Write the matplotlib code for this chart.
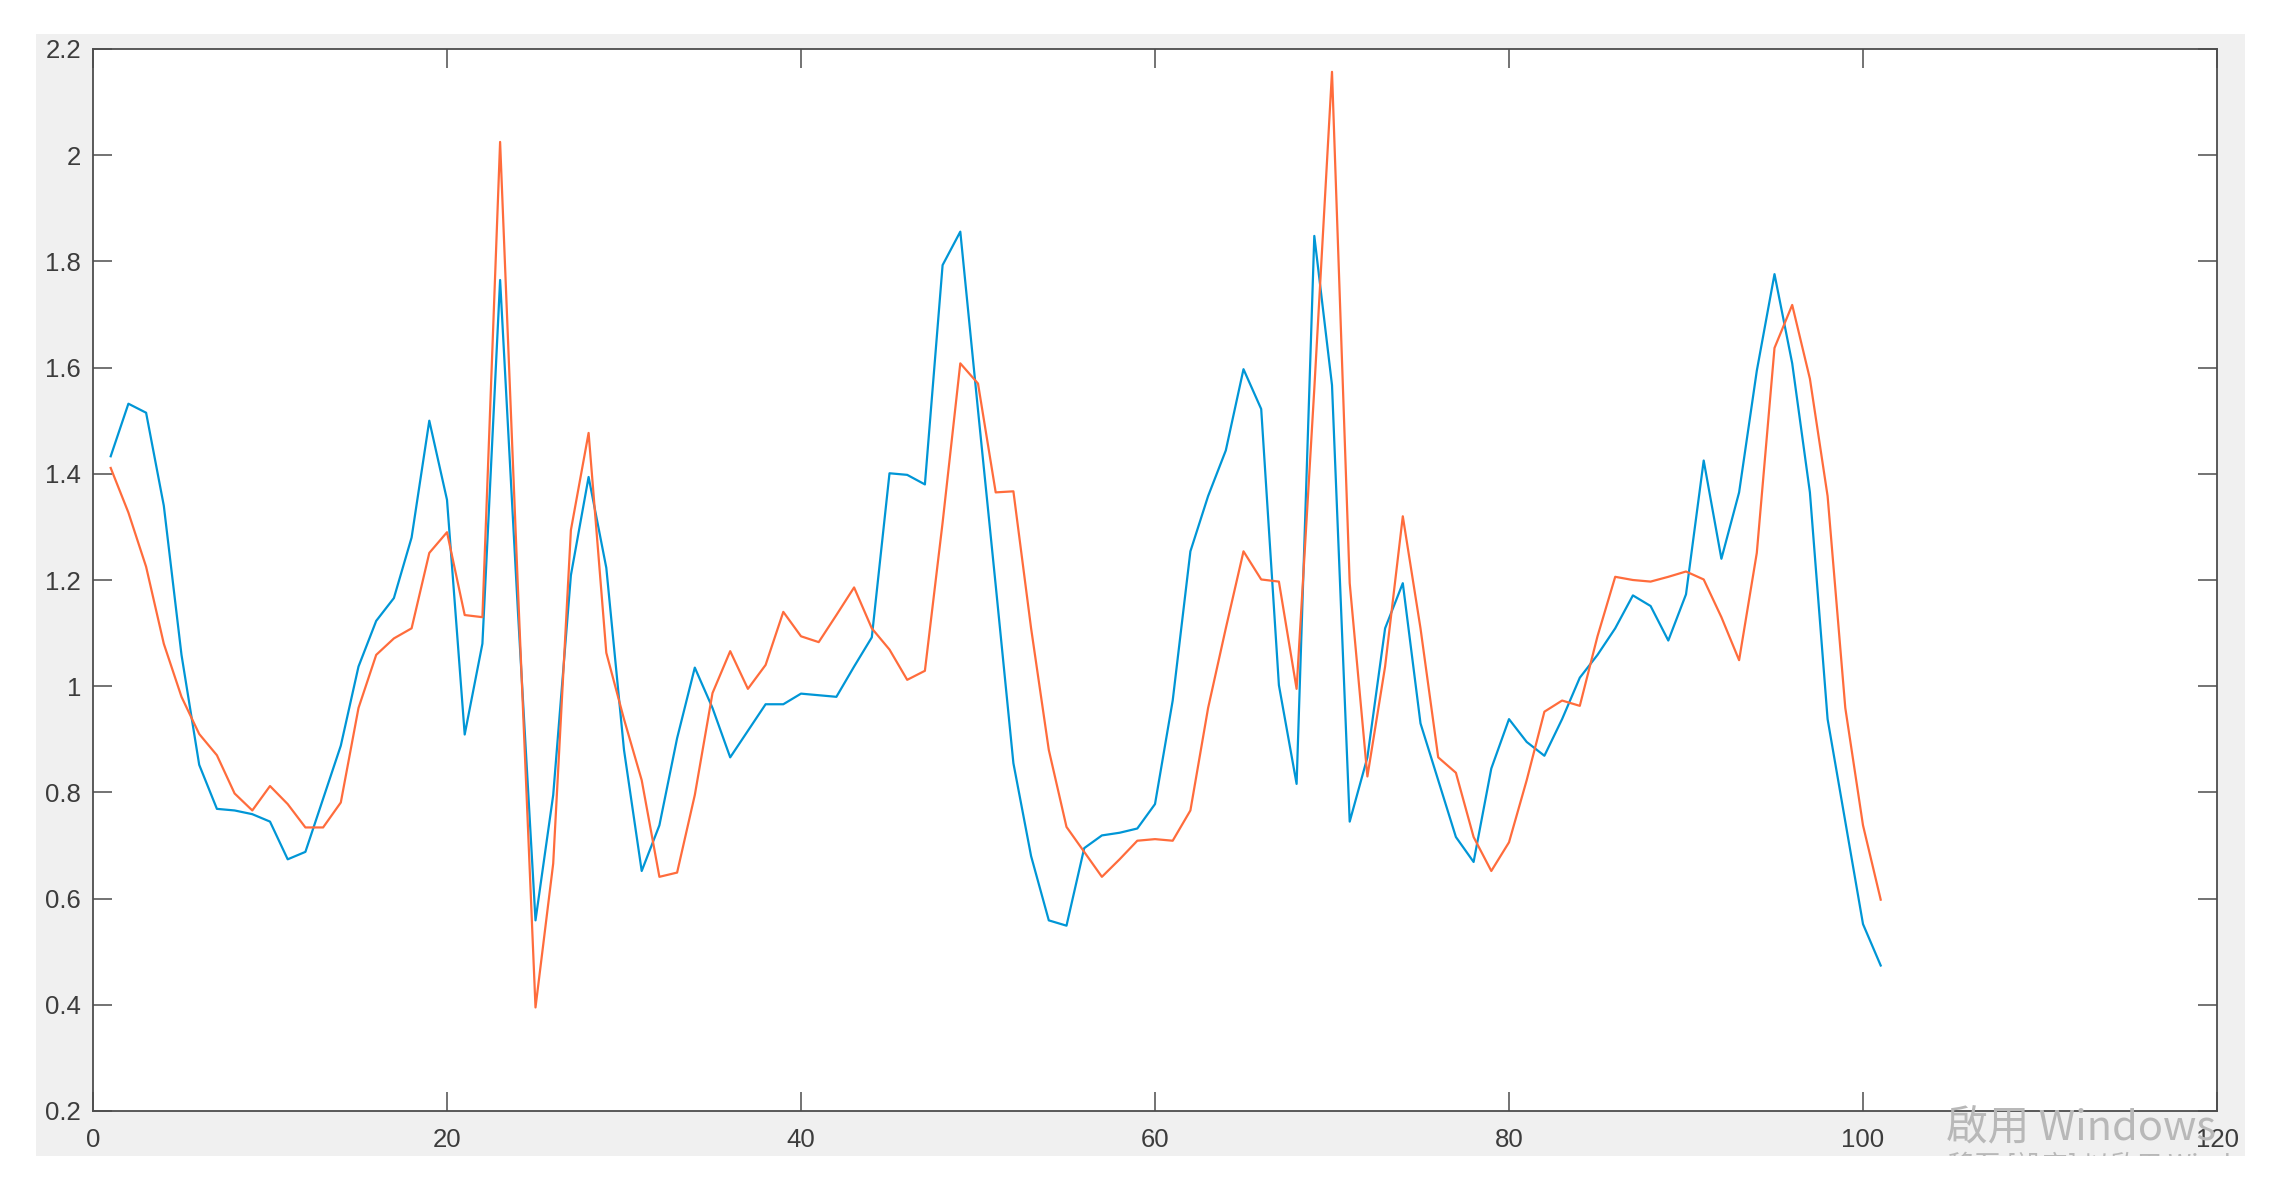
import numpy as np
import matplotlib.pyplot as plt
from matplotlib.patches import Rectangle

# values, x = 1..101
x_vals = np.arange(1, 102)

series_blue = [
    1.433, 1.532, 1.515, 1.340, 1.059, 0.852, 0.769, 0.766, 0.759, 0.745,
    0.674, 0.688, 0.788, 0.888, 1.037, 1.123, 1.166, 1.280, 1.500, 1.351,
    0.909, 1.080, 1.765, 1.145, 0.559, 0.795, 1.209, 1.394, 1.223, 0.880,
    0.652, 0.738, 0.902, 1.035, 0.959, 0.866, 0.916, 0.966, 0.966, 0.986,
    0.983, 0.980, 1.037, 1.092, 1.401, 1.398, 1.380, 1.793, 1.856, 1.520,
    1.190, 0.855, 0.680, 0.559, 0.549, 0.695, 0.719, 0.724, 0.732, 0.778,
    0.973, 1.254, 1.358, 1.444, 1.597, 1.522, 1.002, 0.816, 1.848, 1.567,
    0.745, 0.866, 1.109, 1.194, 0.930, 0.823, 0.716, 0.669, 0.845, 0.938,
    0.895, 0.869, 0.938, 1.016, 1.059, 1.109, 1.171, 1.151, 1.086, 1.173,
    1.425, 1.240, 1.365, 1.594, 1.776, 1.608, 1.365, 0.938, 0.745, 0.552,
    0.474,
]

series_orange = [
    1.411, 1.327, 1.225, 1.080, 0.980, 0.910, 0.870, 0.798, 0.766, 0.812,
    0.778, 0.734, 0.734, 0.781, 0.959, 1.059, 1.090, 1.109, 1.251, 1.290,
    1.134, 1.130, 2.025, 1.190, 0.395, 0.666, 1.294, 1.477, 1.063, 0.938,
    0.823, 0.641, 0.649, 0.795, 0.987, 1.066, 0.995, 1.040, 1.140, 1.094,
    1.083, 1.134, 1.186, 1.109, 1.069, 1.012, 1.029, 1.308, 1.608, 1.570,
    1.365, 1.367, 1.109, 0.880, 0.735, 0.688, 0.641, 0.674, 0.709, 0.712,
    0.709, 0.766, 0.959, 1.109, 1.254, 1.201, 1.197, 0.995, 1.560, 2.157,
    1.194, 0.830, 1.037, 1.320, 1.109, 0.866, 0.837, 0.716, 0.652, 0.706,
    0.823, 0.952, 0.973, 0.963, 1.094, 1.206, 1.200, 1.197, 1.206, 1.216,
    1.201, 1.130, 1.049, 1.251, 1.637, 1.718, 1.579, 1.358, 0.959, 0.738,
    0.598,
]

x_ticks = [0, 20, 40, 60, 80, 100, 120]
y_ticks = [0.2, 0.4, 0.6, 0.8, 1.0, 1.2, 1.4, 1.6, 1.8, 2.0, 2.2]

W, H = 2275, 1189
fig = plt.figure(figsize=(W / 100, H / 100), dpi=100, facecolor='white')

# grey figure panel of the screenshot
panel = Rectangle((36 / W, 1 - 1156 / H), (2245 - 36) / W, (1156 - 34) / H,
                  transform=fig.transFigure, facecolor='#f0f0f0',
                  edgecolor='none', zorder=-10)
fig.add_artist(panel)

ax = fig.add_axes([93 / W, 1 - 1111 / H, (2217 - 93) / W, (1111 - 49) / H])
ax.set_facecolor('white')

ax.plot(x_vals, series_blue, color='#0096d6', lw=1.6)
ax.plot(x_vals, series_orange, color='#ff6c3c', lw=1.6)

ax.set_xlim(0, 120)
ax.set_ylim(0.2, 2.2)
ax.set_xticks(x_ticks)
ax.set_yticks(y_ticks)
ax.set_xticklabels([f'{v:g}' for v in x_ticks])
ax.set_yticklabels([f'{v:g}' for v in y_ticks])

for s in ax.spines.values():
    s.set_color('#4d4d4d')
    s.set_linewidth(1.3)

ax.tick_params(axis='both', direction='in', length=13.5, width=1.1,
               color='#4d4d4d', labelcolor='#3c3c3c', labelsize=18.5,
               top=True, right=True)
ax.tick_params(axis='x', pad=12)
ax.tick_params(axis='y', pad=8.5)
for lab in ax.get_xticklabels() + ax.get_yticklabels():
    lab.set_fontfamily('Liberation Sans')

# windows activation watermark
wm_font = ['Noto Sans CJK TC', 'DejaVu Sans']
fig.text(1946 / W, 1 - 1140 / H, '啟用 Windows', family=wm_font,
         fontsize=30, color='#b8b8b8', va='baseline', ha='left', zorder=20)
t2 = fig.text(1948 / W, 1 - 1152 / H, '移至 [設定] 以啟用 Windows。',
              family=wm_font, fontsize=19, color='#b8b8b8', va='top',
              ha='left', zorder=20)
t2.set_clip_path(panel)

fig.savefig('out.png', dpi=100, facecolor='white')
